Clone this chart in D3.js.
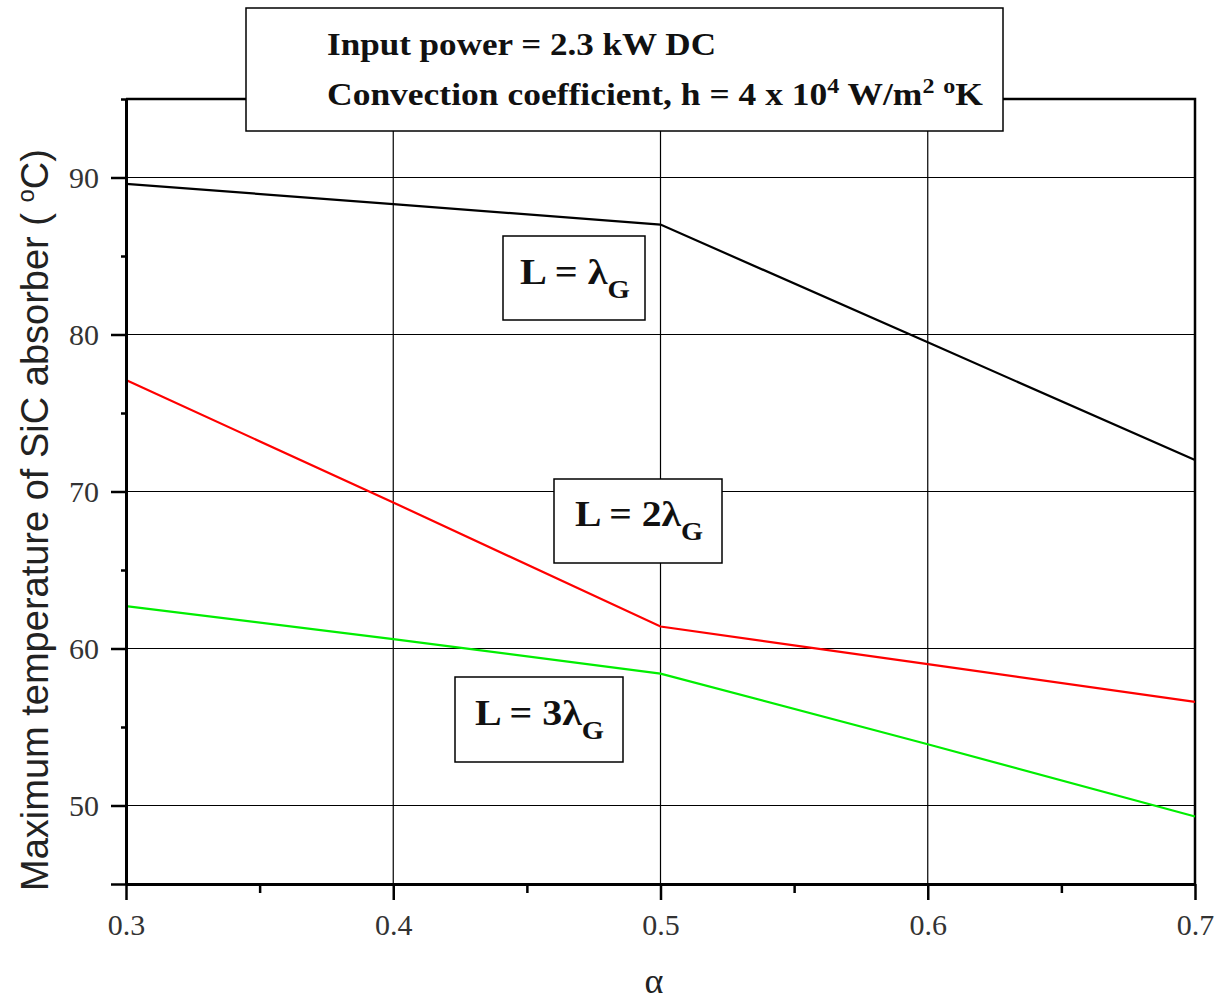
<!DOCTYPE html>
<html>
<head>
<meta charset="utf-8">
<script src="https://cdn.jsdelivr.net/npm/d3@7"></script>
<style>
  body { margin: 0; background: #fff; }
  svg { display: block; }
</style>
</head>
<body>
<svg id="chart" width="1219" height="1001"></svg>
<script>
// values
var alpha = [0.3, 0.4, 0.5, 0.6, 0.7];
var tempL1 = [89.6, 88.3, 87.0, 79.5, 72.0];
var tempL2 = [77.1, 69.3, 61.4, 59.0, 56.6];
var tempL3 = [62.7, 60.6, 58.4, 53.9, 49.3];
var xTicks = [0.3, 0.4, 0.5, 0.6, 0.7];
var xMinor = [0.35, 0.45, 0.55, 0.65];
var yTicks = [50, 60, 70, 80, 90];
var yMinor = [55, 65, 75, 85];

var series = [
  { values: tempL1, color: '#000000' },
  { values: tempL2, color: '#ff0000' },
  { values: tempL3, color: '#00ee00' }
];

var svg = d3.select('#chart');
var serif = '"Liberation Serif", "Times New Roman", serif';
var sans = '"Liberation Sans", Arial, sans-serif';

var x = d3.scaleLinear().domain([0.3, 0.7]).range([126, 1195]);
var y = d3.scaleLinear().domain([45, 95]).range([884, 99]);

// grid lines
svg.append('g').selectAll('line.gx')
  .data(xTicks.slice(1, -1))
  .enter().append('line')
  .attr('x1', function (d) { return x(d); })
  .attr('x2', function (d) { return x(d); })
  .attr('y1', y(95)).attr('y2', y(45))
  .attr('stroke', '#000').attr('stroke-width', 1.2);

svg.append('g').selectAll('line.gy')
  .data(yTicks)
  .enter().append('line')
  .attr('x1', x(0.3)).attr('x2', x(0.7))
  .attr('y1', function (d) { return y(d); })
  .attr('y2', function (d) { return y(d); })
  .attr('stroke', '#000').attr('stroke-width', 1.2);

// top and right frame
svg.append('path')
  .attr('d', 'M' + x(0.3) + ',' + y(95) + 'H' + x(0.7) + 'V' + y(45))
  .attr('fill', 'none').attr('stroke', '#000').attr('stroke-width', 2.5);

// data lines
var line = d3.line()
  .x(function (d, i) { return x(alpha[i]); })
  .y(function (d) { return y(d); });

svg.append('g').selectAll('path.series')
  .data(series)
  .enter().append('path')
  .attr('class', 'series')
  .attr('d', function (s) { return line(s.values); })
  .attr('fill', 'none')
  .attr('stroke', function (s) { return s.color; })
  .attr('stroke-width', 2.2);

// axes
function styleAxis(g) {
  g.select('.domain').attr('stroke-width', 3);
  g.selectAll('.tick line').attr('stroke-width', 2.5);
  g.selectAll('.tick text')
    .attr('font-family', serif)
    .attr('font-size', 30)
    .attr('fill', '#333');
}

svg.append('g')
  .attr('transform', 'translate(0,' + y(45) + ')')
  .call(d3.axisBottom(x).tickValues(xTicks).tickSize(16).tickPadding(14)
    .tickFormat(d3.format('.1f')).tickSizeOuter(0))
  .call(styleAxis);

svg.append('g')
  .attr('transform', 'translate(0,' + y(45) + ')')
  .call(d3.axisBottom(x).tickValues(xMinor).tickSize(9).tickFormat(''))
  .call(function (g) {
    g.select('.domain').remove();
    g.selectAll('.tick line').attr('stroke-width', 2.5);
  });

svg.append('g')
  .attr('transform', 'translate(' + x(0.3) + ',0)')
  .call(d3.axisLeft(y).tickValues(yTicks.concat([45])).tickSize(15).tickPadding(12)
    .tickFormat(function (d) { return d === 45 ? '' : d; }).tickSizeOuter(0))
  .call(styleAxis);

svg.append('g')
  .attr('transform', 'translate(' + x(0.3) + ',0)')
  .call(d3.axisLeft(y).tickValues(yMinor.concat([95])).tickSize(5).tickFormat(''))
  .call(function (g) {
    g.select('.domain').remove();
    g.selectAll('.tick line').attr('stroke-width', 2.5);
  });

// axis titles
svg.append('text')
  .attr('x', 654).attr('y', 993)
  .attr('text-anchor', 'middle')
  .attr('font-family', serif)
  .attr('font-size', 36)
  .attr('fill', '#222')
  .text('α');

var yTitle = svg.append('text')
  .attr('transform', 'translate(48,520) rotate(-90)')
  .attr('text-anchor', 'middle')
  .attr('font-family', sans)
  .attr('font-size', 38)
  .attr('fill', '#222');
yTitle.append('tspan').text('Maximum temperature of SiC absorber ( ');
yTitle.append('tspan').attr('font-size', 24).attr('dy', -14).text('o');
yTitle.append('tspan').attr('dy', 14).text('C)');

// title box
svg.append('rect')
  .attr('x', 246).attr('y', 8).attr('width', 757).attr('height', 123)
  .attr('fill', '#fff').attr('stroke', '#000').attr('stroke-width', 1.5);

svg.append('text')
  .attr('x', 327).attr('y', 55)
  .attr('font-family', serif).attr('font-weight', 'bold')
  .attr('font-size', 31).attr('fill', '#111')
  .attr('textLength', 389).attr('lengthAdjust', 'spacingAndGlyphs')
  .text('Input power = 2.3 kW DC');

var t2 = svg.append('text')
  .attr('x', 327).attr('y', 105)
  .attr('font-family', serif).attr('font-weight', 'bold')
  .attr('font-size', 31).attr('fill', '#111')
  .attr('textLength', 656).attr('lengthAdjust', 'spacingAndGlyphs');
t2.append('tspan').text('Convection coefficient, h = 4 x 10');
t2.append('tspan').attr('font-size', 21).attr('dy', -12).text('4');
t2.append('tspan').attr('dy', 12).text(' W/m');
t2.append('tspan').attr('font-size', 21).attr('dy', -12).text('2');
t2.append('tspan').attr('dy', 12).text(' ');
t2.append('tspan').attr('font-size', 21).attr('dy', -12).text('o');
t2.append('tspan').attr('dy', 12).text('K');

// curve labels
var labelBoxes = [
  { x: 503, y: 236, w: 142, h: 84, prefix: 'L = λ', tx: 520, ty: 284, len: 110 },
  { x: 554, y: 479, w: 168, h: 84, prefix: 'L = 2λ', tx: 575, ty: 526, len: 128 },
  { x: 455, y: 677, w: 168, h: 85, prefix: 'L = 3λ', tx: 475, ty: 725, len: 129 }
];

var lab = svg.append('g').selectAll('g.lab')
  .data(labelBoxes)
  .enter().append('g');

lab.append('rect')
  .attr('x', function (d) { return d.x; })
  .attr('y', function (d) { return d.y; })
  .attr('width', function (d) { return d.w; })
  .attr('height', function (d) { return d.h; })
  .attr('fill', '#fff').attr('stroke', '#000').attr('stroke-width', 1.5);

var labText = lab.append('text')
  .attr('x', function (d) { return d.tx; })
  .attr('y', function (d) { return d.ty; })
  .attr('font-family', serif).attr('font-weight', 'bold')
  .attr('font-size', 35).attr('fill', '#111')
  .attr('textLength', function (d) { return d.len; })
  .attr('lengthAdjust', 'spacingAndGlyphs');
labText.append('tspan').text(function (d) { return d.prefix; });
labText.append('tspan').attr('font-size', 25).attr('dy', 14).text('G');
</script>
</body>
</html>
